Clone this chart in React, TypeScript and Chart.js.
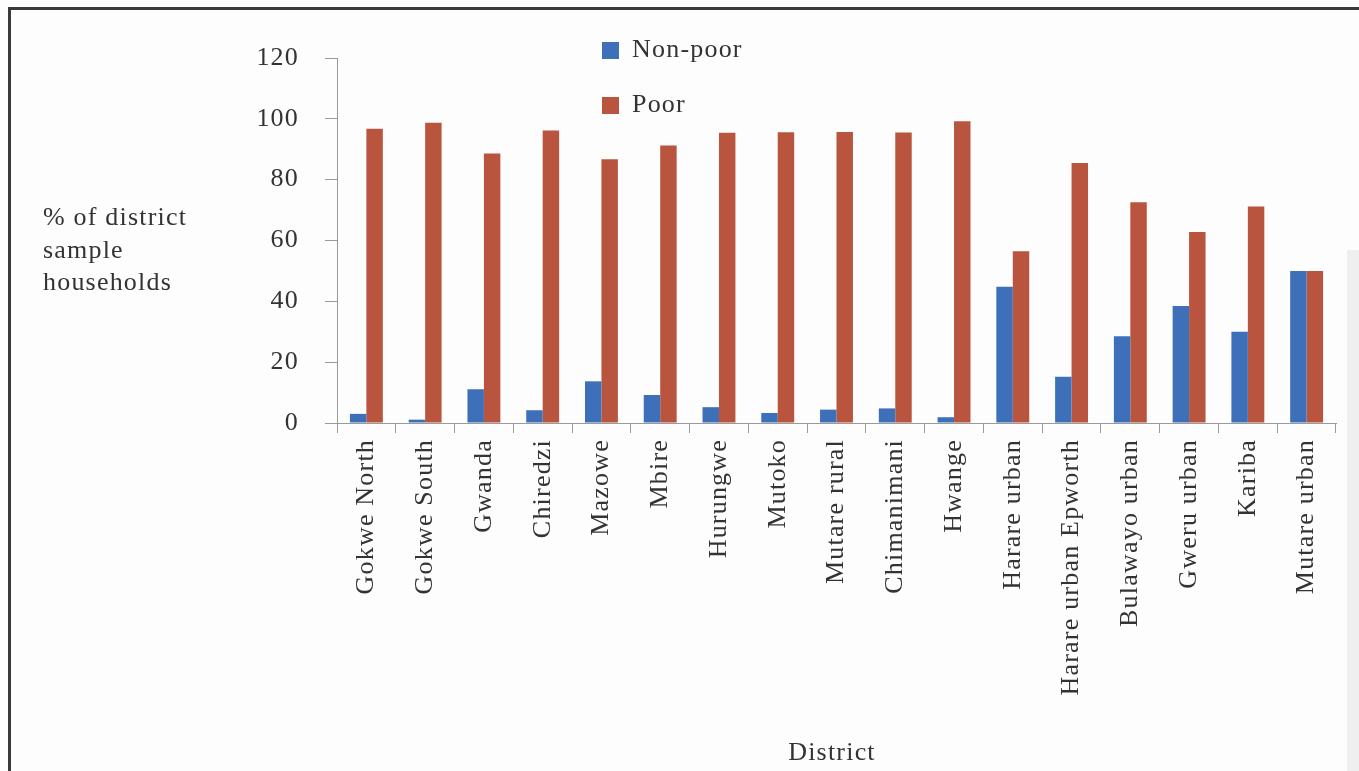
import React, { useEffect, useRef } from "react";
import { Chart, registerables } from "chart.js";

Chart.register(...registerables);

const districts = [
  "Gokwe North",
  "Gokwe South",
  "Gwanda",
  "Chiredzi",
  "Mazowe",
  "Mbire",
  "Hurungwe",
  "Mutoko",
  "Mutare rural",
  "Chimanimani",
  "Hwange",
  "Harare urban",
  "Harare urban Epworth",
  "Bulawayo urban",
  "Gweru urban",
  "Kariba",
  "Mutare urban",
];

const nonPoor = [3.0, 1.1, 11.1, 4.2, 13.7, 9.2, 5.2, 3.3, 4.4, 4.8, 1.9, 44.8, 15.2, 28.5, 38.5, 30.0, 50.0];
const poor = [96.7, 98.7, 88.6, 96.2, 86.7, 91.2, 95.4, 95.6, 95.7, 95.5, 99.2, 56.5, 85.5, 72.6, 62.8, 71.2, 50.0];

const seriesNames = ["Non-poor", "Poor"];
const yTitleLines = ["% of district", "sample", "households"];
const xTitle = "District";
const yMin = 0;
const yMax = 120;
const yStep = 20;

const BLUE = "#3d70b8";
const RED = "#b9553f";
const TEXT = "#333333";
const AXIS = "#9a9a9a";
const FONT = "'Liberation Serif', 'Times New Roman', serif";
const SPACING = "1.2px";

export default function App() {
  const canvasRef = useRef<HTMLCanvasElement | null>(null);

  useEffect(() => {
    const canvas = canvasRef.current;
    if (!canvas) return;

    const decor = {
      id: "decor",
      beforeDraw(chart: any) {
        const ctx = chart.ctx as CanvasRenderingContext2D;
        ctx.save();
        ctx.fillStyle = "#fdfdfd";
        ctx.fillRect(0, 0, chart.width, chart.height);
        ctx.fillStyle = "#efefef";
        ctx.fillRect(1347, 250, chart.width - 1347, chart.height - 250);
        ctx.fillStyle = "#3a3a3a";
        ctx.fillRect(8, 7, chart.width - 8, 3);
        ctx.fillRect(8, 7, 3, chart.height - 7);
        ctx.restore();
        (ctx as any).letterSpacing = SPACING;
      },
      afterDraw(chart: any) {
        const ctx = chart.ctx as CanvasRenderingContext2D;
        ctx.save();
        (ctx as any).letterSpacing = SPACING;
        ctx.font = `26px ${FONT}`;
        ctx.fillStyle = TEXT;
        ctx.textBaseline = "middle";
        ctx.textAlign = "left";
        const ys = [218, 251, 283];
        yTitleLines.forEach((t, i) => ctx.fillText(t, 43, ys[i]));

        // legend
        const colors = [BLUE, RED];
        const ly = [50, 105];
        seriesNames.forEach((n, i) => {
          ctx.fillStyle = colors[i];
          ctx.fillRect(602, ly[i] - 8, 17, 17);
          ctx.fillStyle = TEXT;
          ctx.fillText(n, 632, ly[i]);
        });

        ctx.textAlign = "center";
        ctx.fillText(xTitle, 832, 753);
        ctx.restore();
      },
    };

    const chart = new Chart(canvas, {
      type: "bar",
      data: {
        labels: districts,
        datasets: [
          {
            label: seriesNames[0],
            data: nonPoor,
            backgroundColor: BLUE,
            borderWidth: 0,
            categoryPercentage: 0.56,
            barPercentage: 1.0,
          },
          {
            label: seriesNames[1],
            data: poor,
            backgroundColor: RED,
            borderWidth: 0,
            categoryPercentage: 0.56,
            barPercentage: 1.0,
          },
        ],
      },
      options: {
        responsive: false,
        animation: false,
        layout: { padding: { top: 58, right: 23, bottom: 0, left: 0 } },
        plugins: {
          legend: { display: false },
          tooltip: { enabled: false },
          title: { display: false },
        },
        scales: {
          x: {
            ticks: {
              color: TEXT,
              font: { family: FONT, size: 26 },
              minRotation: 90,
              maxRotation: 90,
              padding: 6,
              autoSkip: false,
            },
            grid: {
              drawOnChartArea: false,
              drawTicks: true,
              tickLength: 10,
              color: AXIS,
              offset: true,
            },
            border: { display: true, color: AXIS, width: 1 },
            afterFit: (s: any) => {
              s.height = 771 - 423;
            },
          },
          y: {
            min: yMin,
            max: yMax,
            ticks: {
              stepSize: yStep,
              color: TEXT,
              font: { family: FONT, size: 26 },
              padding: 26,
            },
            grid: {
              drawOnChartArea: false,
              drawTicks: true,
              tickLength: 12,
              color: AXIS,
            },
            border: { display: true, color: AXIS, width: 1 },
            afterFit: (s: any) => {
              s.width = 337;
            },
          },
        },
      },
      plugins: [decor],
    });

    return () => chart.destroy();
  }, []);

  return (
    <div style={{ position: "absolute", left: 0, top: 0, width: 1359, height: 771 }}>
      <canvas ref={canvasRef} width={1359} height={771} />
    </div>
  );
}
